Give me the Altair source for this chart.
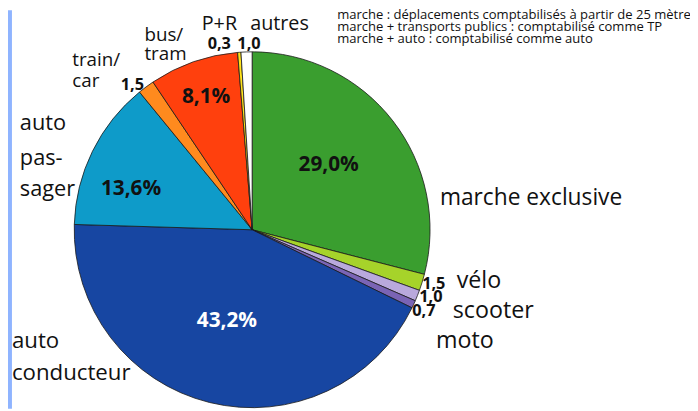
import altair as alt
import pandas as pd

# Slice data (clockwise from 12 o'clock)
categories = ["marche exclusive", "vélo", "scooter", "moto", "auto conducteur",
              "auto passager", "train/car", "bus/tram", "P+R", "autres"]
values = [29.0, 1.5, 1.0, 0.7, 43.2, 13.6, 1.5, 8.1, 0.3, 1.0]
colors = ["#3A9E2F", "#A6D32A", "#B9A9DC", "#7A64B5", "#1746A2",
          "#0E9BC9", "#FF8A1E", "#FF400D", "#FFE31C", "#FFFFFF"]

# Label texts
label_text = ["train/", "car", "1,5", "bus/", "tram", "P+R", "autres", "0,3", "1,0",
              "8,1%", "auto", "pas-", "sager", "13,6%", "29,0%", "marche exclusive",
              "1,5", "vélo", "1,0", "0,7", "scooter", "moto", "43,2%", "auto", "conducteur"]
label_x = [73, 73, 122, 146, 146, 204, 253, 210, 240,
           184, 20, 20, 20, 102, 302, 445,
           427, 462, 424, 417, 458, 441, 199, 12, 12]
label_y = [58, 80, 84, 33, 52, 22, 22, 42, 42,
           96, 122, 157, 189, 189, 165, 198,
           285, 282, 298, 312, 312, 343, 322, 343, 375]
label_size = [19, 19, 16.5, 19, 19, 20, 20, 16.5, 16.5,
              21, 22, 22, 22, 21, 21, 23,
              16.5, 23.5, 16.5, 16.5, 23.5, 23.5, 21, 22.5, 22.5]
label_weight = ["normal", "normal", "bold", "normal", "normal", "normal", "normal", "bold", "bold",
                "bold", "normal", "normal", "normal", "bold", "bold", "normal",
                "bold", "normal", "bold", "bold", "normal", "normal", "bold", "normal", "normal"]
label_color = ["#111"] * 22 + ["#FFFFFF", "#111", "#111"]

notes = ["marche : déplacements comptabilisés à partir de 25 mètres",
         "marche + transports publics : comptabilisé comme TP",
         "marche + auto :  comptabilisé comme auto"]
notes_x = [341, 341, 341]
notes_y = [13, 25, 37]

center_x, center_y = 255, 230

W, H = 690, 403
xs = alt.Scale(domain=[8, 8 + W], range=[0, W])
ys = alt.Scale(domain=[8, 8 + H], range=[0, H])

slices = pd.DataFrame({"cat": categories, "val": values, "order": list(range(len(values)))})
labels = pd.DataFrame({"t": label_text, "x": label_x, "y": label_y, "s": label_size,
                       "w": label_weight, "c": label_color})
notes_df = pd.DataFrame({"t": notes, "x": notes_x, "y": notes_y})

frame_left = alt.Chart(pd.DataFrame({"a": [0]})).mark_rect(color="#8FB4FF").encode(
    x=alt.value(0), x2=alt.value(4), y=alt.value(0), y2=alt.value(H))

pie = alt.Chart(slices).mark_arc(outerRadius=180, stroke="#1a1a1a", strokeWidth=0.8).encode(
    theta=alt.Theta("val:Q", stack=True),
    order=alt.Order("order:Q"),
    color=alt.Color("cat:N", scale=alt.Scale(domain=categories, range=colors), legend=None),
    x=alt.X(datum=center_x, scale=xs, axis=None),
    y=alt.Y(datum=center_y, scale=ys, axis=None),
)

def label_layer(df, size, weight, color):
    return alt.Chart(df).mark_text(align="left", baseline="middle", font="Open Sans",
                                   fontSize=size, fontWeight=weight, color=color).encode(
        x=alt.X("x:Q", scale=xs, axis=None),
        y=alt.Y("y:Q", scale=ys, axis=None),
        text="t:N")

layers = [frame_left, pie]
for (s, w, c), g in labels.groupby(["s", "w", "c"]):
    layers.append(label_layer(g, float(s), w, c))
layers.append(label_layer(notes_df, 13.2, "normal", "#111"))

chart = alt.layer(*layers).properties(
    width=W, height=H, padding=0, autosize=alt.AutoSizeParams(type="none"),
    background="white"
).configure_view(stroke=None)

chart.save("out.html", embed_options={"renderer": "svg", "actions": False})
